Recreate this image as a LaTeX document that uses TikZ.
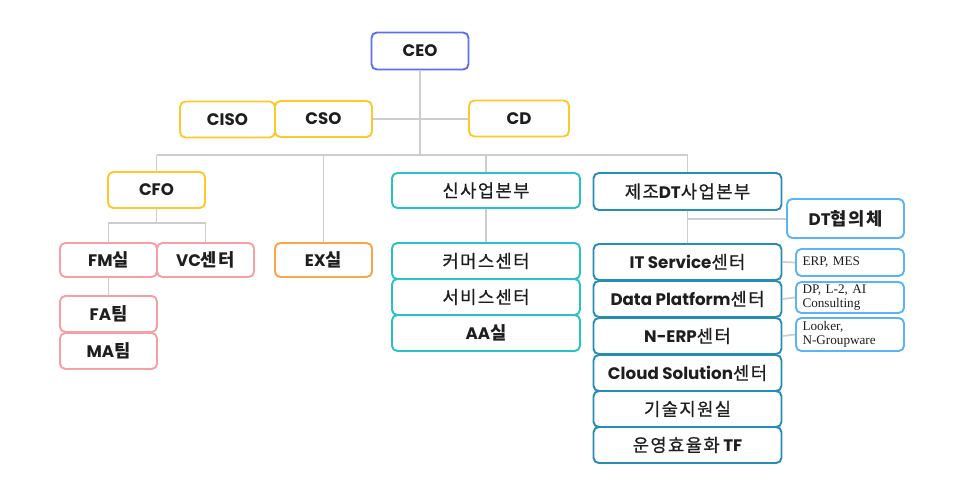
\documentclass[tikz,border=0pt]{standalone}
\usepackage{fontspec}
\setmainfont{Poppins}
\newfontfamily\kr[LetterSpace=8, Scale=1.06]{Noto Sans CJK KR}
\newfontfamily\krm[LetterSpace=8, Scale=1.06, FakeBold=0.6]{Noto Sans CJK KR}
\newfontfamily\tm{Liberation Serif}
\newcommand{\ko}[1]{{\krm\mdseries #1}}
\newcommand{\kob}[1]{{\kr #1}}
\definecolor{azulceo}{RGB}{91,110,245}
\definecolor{amarillo}{RGB}{255,200,45}
\definecolor{rosa}{RGB}{245,160,165}
\definecolor{naranja}{RGB}{250,165,75}
\definecolor{turquesa}{RGB}{40,195,200}
\definecolor{azuloscuro}{RGB}{40,140,185}
\definecolor{celeste}{RGB}{90,180,245}
\definecolor{gris}{RGB}{205,205,205}
\definecolor{texto}{RGB}{30,30,30}
\begin{document}
\begin{tikzpicture}[x=0.02cm, y=-0.02cm,
    caja/.style={draw, fill=white, rounded corners=3pt, line width=1.1pt, inner sep=0pt,
      minimum width=1.94cm, minimum height=0.72cm, text=texto,
      font=\bfseries\fontsize{9.5}{11}\selectfont},
    ancha/.style={caja, minimum width=3.76cm},
    nota/.style={draw=celeste, fill=white, rounded corners=3pt, line width=1.1pt, inner sep=0pt,
      minimum width=2.16cm, text width=1.9cm, align=left, text=texto,
      font=\tm\fontsize{7.5}{8}\selectfont},
    linea/.style={draw=gris, line width=1pt}]
    \useasboundingbox (0,0) rectangle (960,501);

    % Direccion
    \node[caja, draw=azulceo, minimum height=0.74cm] (ceo) at (420,51) {CEO};
    \node[caja, draw=amarillo, minimum width=1.9cm] (ciso) at (227.5,119.5) {CISO};
    \node[caja, draw=amarillo] (cso) at (323.5,119) {CSO};
    \node[caja, draw=amarillo, minimum width=2cm] (cd) at (519,118.5) {CD};

    % Rama CFO
    \node[caja, draw=amarillo] (cfo) at (156.5,190) {CFO};
    \node[caja, draw=rosa, minimum height=0.68cm] (fm) at (108.5,260) {FM\kob{실}};
    \node[caja, draw=rosa, minimum height=0.68cm] (vc) at (205.5,260) {VC\kob{센터}};
    \node[caja, draw=rosa] (fa) at (108.5,314) {FA\kob{팀}};
    \node[caja, draw=rosa] (ma) at (108.5,351) {MA\kob{팀}};
    \node[caja, draw=naranja, minimum height=0.68cm] (ex) at (323.5,260) {EX\kob{실}};

    % Rama nuevos negocios
    \node[ancha, draw=turquesa, minimum height=0.7cm] (nuevo) at (486,190.5) {\ko{신사업본부}};
    \node[ancha, draw=turquesa] (comercio) at (486,261) {\ko{커머스센터}};
    \node[ancha, draw=turquesa] (servicio) at (486,297) {\ko{서비스센터}};
    \node[ancha, draw=turquesa] (aa) at (486,333) {AA\kob{실}};

    % Rama DT
    \node[ancha, draw=azuloscuro, minimum height=0.74cm] (dt) at (687.5,191.5) {\ko{제조}DT\ko{사업본부}};
    \node[caja, draw=celeste, minimum width=2.34cm, minimum height=0.78cm] (dtc) at (845.5,218.5) {DT\kob{협의체}};
    \node[ancha, draw=azuloscuro] (its) at (687.5,262) {IT Service\ko{센터}};
    \node[ancha, draw=azuloscuro] (dp) at (687.5,299) {Data Platform\ko{센터}};
    \node[ancha, draw=azuloscuro] (nerp) at (687.5,336) {N-ERP\ko{센터}};
    \node[ancha, draw=azuloscuro] (cloud) at (687.5,373) {Cloud Solution\ko{센터}};
    \node[ancha, draw=azuloscuro] (tec) at (687.5,409) {\ko{기술지원실}};
    \node[ancha, draw=azuloscuro] (ops) at (687.5,445) {\ko{운영효율화} TF};

    % Notas laterales
    \node[nota, minimum height=0.54cm] (n1) at (850,262.5) {ERP, MES};
    \node[nota, minimum height=0.62cm] (n2) at (850,297.5) {DP, L-2, AI\\Consulting};
    \node[nota, minimum height=0.66cm] (n3) at (850,334.5) {Looker,\\N-Groupware};

    % Lineas
    \coordinate (b0) at (420,155);
    \coordinate (b1) at (156.5,223);
    \coordinate (b2) at (687.5,219);
    \draw[linea] (ceo.south) -- (b0);
    \draw[linea] (cso.east) -- (cso.east -| cd.west);
    \draw[linea] (cfo |- b0) -- (dt |- b0);
    \draw[linea] (cfo |- b0) -- (cfo.north);
    \draw[linea] (ex |- b0) -- (ex.north);
    \draw[linea] (nuevo |- b0) -- (nuevo.north);
    \draw[linea] (dt |- b0) -- (dt.north);
    \draw[linea] (cfo.south) -- (b1);
    \draw[linea] (fm.north) -- (fm |- b1) -- (vc |- b1) -- (vc.north);
    \draw[linea] (fm.south) -- (fa.north);
    \draw[linea] (nuevo.south) -- (comercio.north);
    \draw[linea] (dt.south) -- (its.north);
    \draw[linea] (b2) -- (b2 -| dtc.west);
    \draw[linea] (its.east) -- (n1.west);
    \draw[linea] (dp.east) -- (n2.west);
    \draw[linea] (nerp.east) -- (n3.west);
  \end{tikzpicture}
\end{document}
